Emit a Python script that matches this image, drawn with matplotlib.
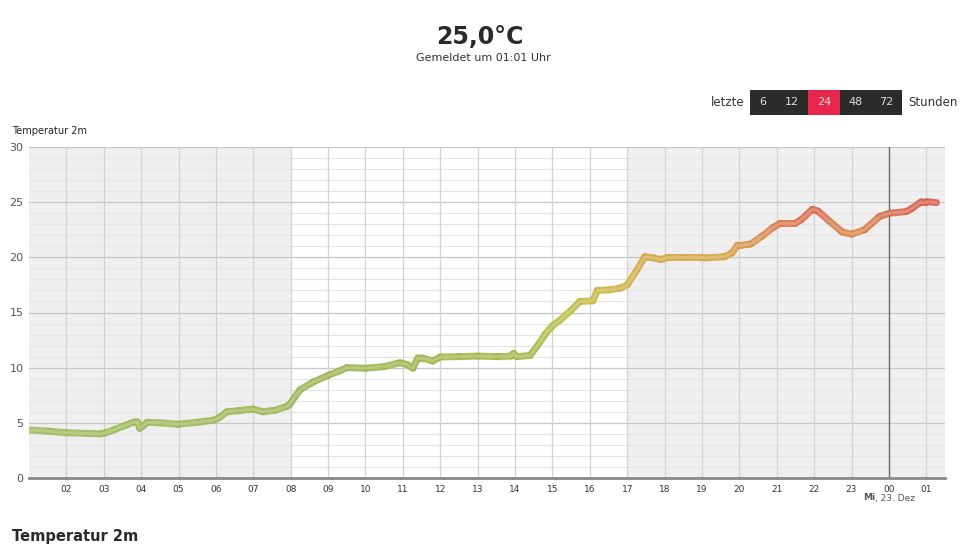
import numpy as np
import matplotlib
matplotlib.use("Agg")
import matplotlib.pyplot as plt
from matplotlib.collections import LineCollection
from matplotlib.colors import LinearSegmentedColormap
from matplotlib.patches import Rectangle

# ---- data (hours since 00:00 of the previous day; 24 = 00 Uhr Mi) ----
hours = [1.0, 1.5, 2.0, 2.5, 2.9, 3.05, 3.3, 3.6, 3.83, 3.9, 3.96, 4.05, 4.16, 4.5,
         4.98, 5.5, 5.97, 6.1, 6.29, 6.6, 6.99, 7.26, 7.6, 7.9, 7.98, 8.1, 8.25, 8.6,
         9.0, 9.3, 9.5, 10.0, 10.5, 10.92, 11.1, 11.27, 11.4, 11.5, 11.8, 12.0, 12.5,
         13.0, 13.5, 13.9, 13.96, 14.05, 14.4, 14.6, 14.8, 15.0, 15.2, 15.5, 15.73,
         16.08, 16.2, 16.5, 16.8, 17.0, 17.25, 17.47, 17.7, 17.9, 18.1, 18.5, 18.95,
         19.1, 19.6, 19.8, 19.95, 20.05, 20.3, 20.6, 20.9, 21.1, 21.5, 21.65, 21.95,
         22.1, 22.4, 22.75, 23.0, 23.35, 23.75, 24.02, 24.47, 24.6, 24.87, 25.0, 25.27]
temps = [4.35, 4.25, 4.1, 4.05, 4.0, 4.1, 4.4, 4.8, 5.1, 5.1, 4.5, 4.7, 5.05, 5.0,
         4.87, 5.05, 5.26, 5.5, 6.0, 6.1, 6.25, 6.0, 6.15, 6.5, 6.7, 7.3, 8.0, 8.7,
         9.3, 9.7, 10.0, 9.95, 10.1, 10.45, 10.3, 9.95, 10.9, 10.9, 10.6, 10.97, 11.0,
         11.05, 11.0, 11.05, 11.3, 11.0, 11.1, 12.0, 13.0, 13.8, 14.3, 15.2, 16.0,
         16.05, 17.0, 17.05, 17.2, 17.5, 18.8, 20.05, 19.95, 19.8, 20.0, 20.0, 20.0,
         19.95, 20.05, 20.4, 21.1, 21.1, 21.2, 21.9, 22.7, 23.1, 23.1, 23.4, 24.35,
         24.2, 23.3, 22.3, 22.1, 22.5, 23.7, 24.0, 24.15, 24.4, 25.05, 25.05, 24.96]

xtick_pos = list(range(2, 26))
xtick_labels = ["02", "03", "04", "05", "06", "07", "08", "09", "10", "11", "12", "13",
                "14", "15", "16", "17", "18", "19", "20", "21", "22", "23", "00", "01"]
ytick_vals = [0, 5, 10, 15, 20, 25, 30]
shaded_spans = [(1.0, 8.0), (17.0, 25.5)]
hour_buttons = ["6", "12", "24", "48", "72"]

# ---- figure ----
fig = plt.figure(figsize=(9.6, 5.46), dpi=100)
fig.patch.set_facecolor("white")
ax = fig.add_axes([29/960, (546-478)/546, (945-29)/960, (478-147)/546])
ax.set_xlim(1.0, 25.5)
ax.set_ylim(0, 30)
ax.set_facecolor("white")

for a, b in shaded_spans:
    ax.axvspan(a, b, color="#efefef", zorder=0, lw=0)

# grid
for v in np.arange(1, 30, 1):
    ax.axhline(v, color="#e4e4e4", lw=0.8, zorder=1)
for v in ytick_vals[1:]:
    ax.axhline(v, color="#c8c8c8", lw=0.9, zorder=1)
for h in xtick_pos:
    if h == 24:
        ax.axvline(h, color="#666666", lw=1.0, zorder=1.5)
    else:
        ax.axvline(h, color="#d2d2d2", lw=0.9, zorder=1)

# coloured line
cmap = LinearSegmentedColormap.from_list(
    "temp", [(0.0, "#9dbd62"), (10/25, "#9db44e"), (15/25, "#bdbd42"),
             (17.5/25, "#cdb444"), (20/25, "#d2a844"), (22/25, "#d98a4a"),
             (24/25, "#d86a4b"), (1.0, "#d65e48")])
x = np.array(hours)
y = np.array(temps)
pts = np.column_stack([x, y]).reshape(-1, 1, 2)
segs = np.concatenate([pts[:-1], pts[1:]], axis=1)
mid = (y[:-1] + y[1:]) / 2 / 25.0
cols = cmap(np.clip(mid, 0, 1))
light = cols.copy()
light[:, :3] = cols[:, :3] + (1 - cols[:, :3]) * 0.25
lc1 = LineCollection(segs, colors=cols, linewidths=5.0, capstyle="round",
                     joinstyle="round", zorder=3, alpha=0.9)
lc2 = LineCollection(segs, colors=light, linewidths=2.2, capstyle="round",
                     joinstyle="round", zorder=4)
ax.add_collection(lc1)
ax.add_collection(lc2)

# axes styling
for s in ["top", "right", "left"]:
    ax.spines[s].set_visible(False)
ax.spines["bottom"].set_color("#888888")
ax.spines["bottom"].set_linewidth(2)
ax.set_xticks(xtick_pos)
ax.set_xticklabels(xtick_labels)
ax.set_yticks(ytick_vals)
ax.tick_params(axis="x", length=0, labelsize=6.5, colors="#333333", pad=5)
ax.tick_params(axis="y", length=0, labelsize=8, colors="#555555", pad=4)

# texts
fig.text(480/960, 1 - 37/546, "25,0°C", ha="center", va="center",
         fontsize=17, fontweight="bold", color="#2a2a2a", family="DejaVu Sans")
fig.text(483/960, 1 - 58/546, "Gemeldet um 01:01 Uhr", ha="center", va="center",
         fontsize=8, color="#333333")
fig.text(12/960, 1 - 131/546, "Temperatur 2m", ha="left", va="center",
         fontsize=7, color="#222222")
fig.text(12/960, 1 - 536/546, "Temperatur 2m", ha="left", va="center",
         fontsize=10.5, fontweight="bold", color="#2a2a2a")
fig.text(875/960, 1 - 498/546, "Mi", ha="right", va="center", fontsize=6.5,
         fontweight="bold", color="#555555")
fig.text(875/960, 1 - 498/546, ", 23. Dez", ha="left", va="center", fontsize=6.5,
         color="#555555")

# hour buttons
fig.text(745/960, 1 - 102/546, "letzte", ha="right", va="center", fontsize=8.5,
         color="#333333")
edges = [750, 775, 808, 840, 871, 902]
for i, lab in enumerate(hour_buttons):
    x0, x1 = edges[i], edges[i + 1]
    col = "#e8254a" if lab == "24" else "#2b2b2b"
    fig.patches.append(Rectangle((x0/960, 1 - 115/546), (x1 - x0)/960, 25/546,
                                 transform=fig.transFigure, facecolor=col,
                                 edgecolor="none"))
    fig.text((x0 + x1)/2/960, 1 - 102/546, lab, ha="center", va="center",
             fontsize=8, color="#dddddd")
fig.text(908/960, 1 - 102/546, "Stunden", ha="left", va="center", fontsize=8.5,
         color="#333333")

fig.savefig("out.png", dpi=100, facecolor="white")
